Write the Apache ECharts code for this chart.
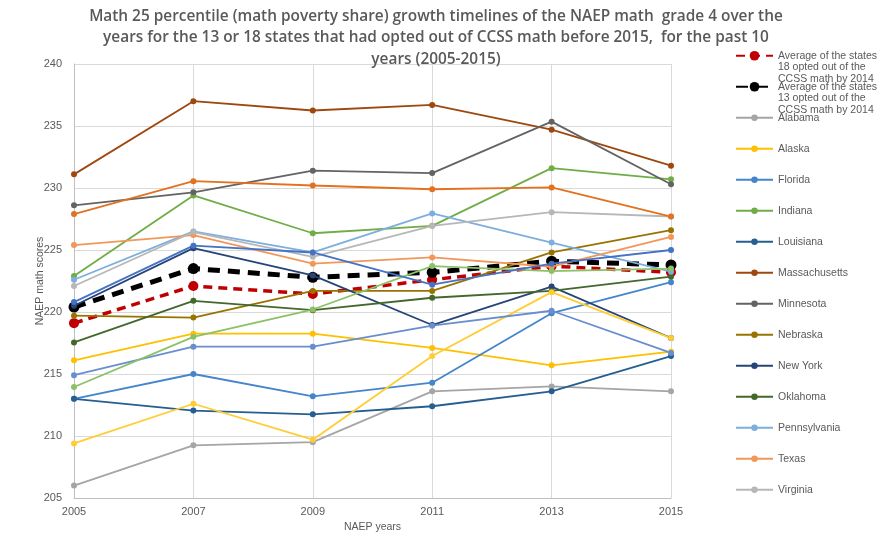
<!DOCTYPE html>
<html>
<head>
<meta charset="utf-8">
<script src="https://cdn.jsdelivr.net/npm/echarts@6/dist/echarts.min.js"></script>
<style>
  html, body { margin: 0; padding: 0; background: #ffffff; }
  #chart { width: 893px; height: 542px; }
</style>
</head>
<body>
<div id="chart"></div>
<script>
// ---- data ----
var years = ['2005', '2007', '2009', '2011', '2013', '2015'];
var yTicks = [205, 210, 215, 220, 225, 230, 235, 240];

var avg18 = [219.1, 222.1, 221.45, 222.6, 223.7, 223.2];
var avg13 = [220.4, 223.5, 222.8, 223.2, 224.1, 223.8];

var alabama = [206.0, 209.25, 209.5, 213.6, 214.0, 213.6];
var alaska = [216.1, 218.25, 218.25, 217.1, 215.7, 216.8];
var florida = [213.0, 215.0, 213.2, 214.3, 219.9, 222.4];
var indiana = [222.9, 229.4, 226.35, 226.95, 231.6, 230.7];
var louisiana = [213.0, 212.05, 211.75, 212.4, 213.6, 216.45];
var massachusetts = [231.1, 237.0, 236.25, 236.7, 234.7, 231.8];
var minnesota = [228.6, 229.65, 231.4, 231.2, 235.35, 230.3];
var nebraska = [219.7, 219.55, 221.7, 221.7, 224.8, 226.6];
var newYork = [220.5, 225.15, 222.95, 218.95, 222.05, 217.9];
var oklahoma = [217.55, 220.9, 220.15, 221.15, 221.7, 222.85];
var pennsylvania = [222.6, 226.5, 224.8, 227.95, 225.6, 223.25];
var texas = [225.4, 226.2, 223.9, 224.4, 223.65, 226.05];
var virginia = [222.1, 226.45, 224.45, 226.95, 228.05, 227.7];

// five further states drawn in the chart but cut off from its legend
var state16 = [209.4, 212.6, 209.7, 216.45, 221.6, 217.9];
var state17 = [214.9, 217.2, 217.2, 218.9, 220.1, 216.7];
var state18 = [213.95, 218.0, 220.2, 223.7, 223.3, 223.5];
var state19 = [227.9, 230.55, 230.2, 229.9, 230.05, 227.7];
var state20 = [220.8, 225.35, 224.8, 222.2, 223.9, 225.0];

var avgNames = ['Average of the states\n18 opted out of the\nCCSS math by 2014',
                'Average of the states\n13 opted out of the\nCCSS math by 2014'];
var stateNames = ['Alabama', 'Alaska', 'Florida', 'Indiana', 'Louisiana', 'Massachusetts',
                  'Minnesota', 'Nebraska', 'New York', 'Oklahoma', 'Pennsylvania', 'Texas', 'Virginia'];
var stateValues = [alabama, alaska, florida, indiana, louisiana, massachusetts,
                   minnesota, nebraska, newYork, oklahoma, pennsylvania, texas, virginia];
var stateColors = ['#A5A5A5', '#FFC000', '#4485CC', '#70AD47', '#255E91', '#9E480E',
                   '#636363', '#997300', '#264478', '#43682B', '#7CAFDD', '#F1975A', '#B7B7B7'];
var extraNames = ['State 16', 'State 17', 'State 18', 'State 19', 'State 20'];
var extraValues = [state16, state17, state18, state19, state20];
var extraColors = ['#FFCD33', '#698ED0', '#8CC168', '#E2721F', '#4472C4'];

// ---- build ----
var series = [];
series.push({
  name: avgNames[0], type: 'line', data: avg18,
  symbol: 'circle', symbolSize: 10,
  lineStyle: { color: '#C00000', width: 3.5, type: [9, 6] },
  itemStyle: { color: '#C00000' },
  emphasis: { disabled: true }, z: 2
});
series.push({
  name: avgNames[1], type: 'line', data: avg13,
  symbol: 'circle', symbolSize: 11,
  lineStyle: { color: '#000000', width: 5, type: [12, 8] },
  itemStyle: { color: '#000000' },
  emphasis: { disabled: true }, z: 2
});
function addState(name, vals, color) {
  series.push({
    name: name, type: 'line', data: vals,
    symbol: 'circle', symbolSize: 6,
    lineStyle: { color: color, width: 1.8 },
    itemStyle: { color: color },
    emphasis: { disabled: true }, z: 3
  });
}
for (var i = 0; i < stateNames.length; i++) addState(stateNames[i], stateValues[i], stateColors[i]);
for (var j = 0; j < extraNames.length; j++) addState(extraNames[j], extraValues[j], extraColors[j]);

var axisGray = '#595959';
var legendText = { fontFamily: 'Liberation Sans', fontSize: 10.5, color: '#595959', lineHeight: 11.5 };

var option = {
  animation: false,
  backgroundColor: '#ffffff',
  title: {
    text: 'Math 25 percentile (math poverty share) growth timelines of the NAEP math  grade 4 over the\nyears for the 13 or 18 states that had opted out of CCSS math before 2015,  for the past 10\nyears (2005-2015)',
    left: 431, top: 1, textAlign: 'center',
    textStyle: { fontFamily: 'Open Sans', fontSize: 15.4, fontWeight: 600, color: '#595959', lineHeight: 21.3 }
  },
  grid: { left: 74, right: 222, top: 64, bottom: 44, containLabel: false },
  legend: [{
    data: avgNames,
    formatter: function (name) { return '\n\n' + name; },
    orient: 'vertical', left: 735, top: 27, padding: 0,
    itemWidth: 37, itemHeight: 12, itemGap: -26.5,
    textStyle: legendText, selectedMode: false
  }, {
    data: stateNames,
    orient: 'vertical', left: 735, top: 112, padding: 0,
    itemWidth: 37, itemHeight: 8, itemGap: 19.5,
    textStyle: legendText, selectedMode: false
  }],
  xAxis: {
    type: 'category', data: years, boundaryGap: false,
    name: 'NAEP years', nameLocation: 'middle', nameGap: 23,
    nameTextStyle: { fontFamily: 'Liberation Sans', fontSize: 10.5, color: axisGray },
    axisLine: { lineStyle: { color: '#BFBFBF', width: 1 } },
    axisTick: { show: false },
    axisLabel: { fontFamily: 'Liberation Sans', fontSize: 11, color: axisGray, margin: 8 },
    splitLine: { show: true, lineStyle: { color: '#D9D9D9', width: 1 } }
  },
  yAxis: {
    type: 'value', min: yTicks[0], max: yTicks[yTicks.length - 1], interval: 5,
    name: 'NAEP math scores', nameLocation: 'middle', nameGap: 28, nameRotate: 90,
    nameMoveOverlap: false,
    nameTextStyle: { fontFamily: 'Liberation Sans', fontSize: 10.5, color: axisGray },
    axisLine: { show: true, lineStyle: { color: '#BFBFBF', width: 1 } },
    axisTick: { show: false },
    axisLabel: { fontFamily: 'Liberation Sans', fontSize: 11, color: axisGray, margin: 12 },
    splitLine: { show: true, lineStyle: { color: '#D9D9D9', width: 1 } }
  },
  series: series
};

var chart = echarts.init(document.getElementById('chart'), null, { renderer: 'canvas' });
chart.setOption(option);
</script>
</body>
</html>
